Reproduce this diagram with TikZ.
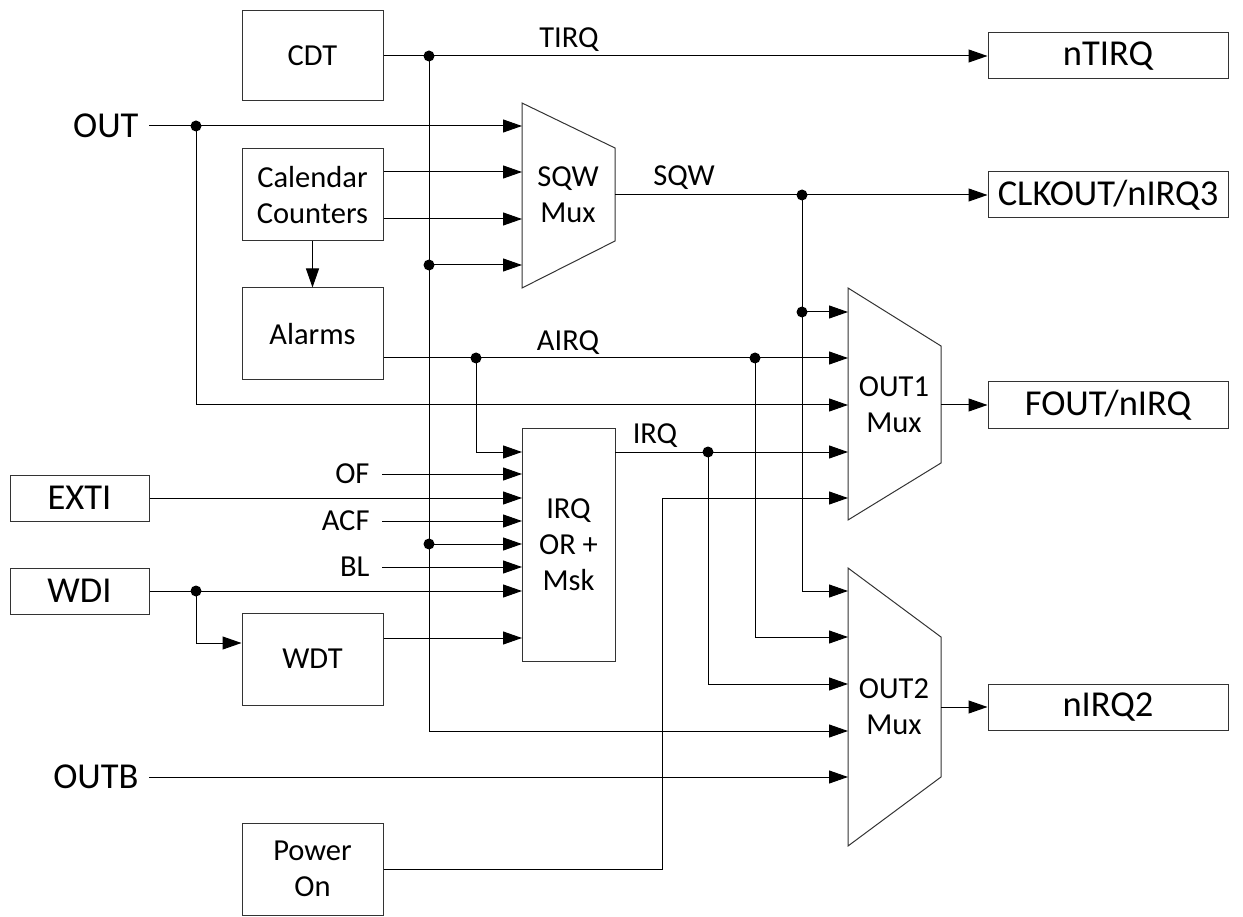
\documentclass[tikz,border=0pt]{standalone}
\usepackage{fontspec}
\setmainfont{Carlito}
\usetikzlibrary{arrows.meta,calc}
\newcommand\fsmall{\fontsize{30.5}{36}\selectfont}
\newcommand\fbig{\fontsize{36.5}{42}\selectfont}
\begin{document}
\begin{tikzpicture}[x=1pt,y=-1pt,line width=1pt,
  >={Triangle[length=19pt,width=13pt]},
  blk/.style={draw=black!80,minimum width=141pt,minimum height=92pt,inner sep=0pt,font=\fsmall,align=center},
  io/.style={draw=black!80,minimum width=139pt,minimum height=46pt,inner sep=0pt,font=\fbig},
  ob/.style={draw=black!80,minimum width=240pt,minimum height=46pt,inner sep=0pt,font=\fbig},
  mux/.style={draw=black!80,line join=miter},
  muxtxt/.style={font=\fsmall,align=center,inner sep=0pt},
  sl/.style={font=\fsmall,inner sep=0pt},
  inlbl/.style={font=\fsmall,inner ysep=0pt,inner xsep=12pt,anchor=east},
  biglbl/.style={font=\fbig,inner ysep=0pt,inner xsep=10pt,anchor=east},
  dot/.style={fill=black}]
\useasboundingbox (0,0) rectangle (1243,917);

% blocks
\node[blk,minimum height=90pt] (cdt) at (312.5,56) {CDT};
\node[blk] (cal) at (312.5,195) {Calendar\\Counters};
\node[blk] (alarms) at (312.5,334) {Alarms};
\node[blk] (wdt) at (312.5,659) {WDT};
\node[blk] (pwr) at (312.5,869) {Power\\On};
\node[io] (exti) at (79.5,498) {EXTI};
\node[io] (wdi) at (79.5,591) {WDI};
\node[ob] (ntirq) at (1108,56) {nTIRQ};
\node[ob] (clk) at (1108,195) {CLKOUT/nIRQ3};
\node[ob] (fout) at (1108,405) {FOUT/nIRQ};
\node[ob] (nirq2) at (1108,707) {nIRQ2};
\node[draw=black!80,minimum width=93pt,minimum height=233pt,inner sep=0pt,font=\fsmall,align=center] (irq) at (568.5,544.5) {IRQ\\OR +\\Msk};

% muxes
\draw[mux] (522,103) -- (615,148) -- (615,241) -- (522,288) -- cycle;
\node[muxtxt] (sqw) at (568,195) {SQW\\Mux};
\draw[mux] (848,288) -- (941,346) -- (941,463) -- (848,520) -- cycle;
\node[muxtxt] (out1) at (894,405) {OUT1\\Mux};
\draw[mux] (848,568) -- (941,637) -- (941,777) -- (848,846) -- cycle;
\node[muxtxt] (out2) at (894,707) {OUT2\\Mux};

% ports
\coordinate (sIn1) at (522,126); \coordinate (sIn2) at (522,172);
\coordinate (sIn3) at (522,219); \coordinate (sIn4) at (522,265);
\coordinate (sOut) at (615,195);
\coordinate (aIn1) at (848,312); \coordinate (aIn2) at (848,358);
\coordinate (aIn3) at (848,405); \coordinate (aIn4) at (848,452);
\coordinate (aIn5) at (848,498); \coordinate (aOut) at (941,405);
\coordinate (bIn1) at (848,591); \coordinate (bIn2) at (848,637);
\coordinate (bIn3) at (848,684); \coordinate (bIn4) at (848,731);
\coordinate (bIn5) at (848,777); \coordinate (bOut) at (941,707);
\coordinate (iIn1) at (522,452); \coordinate (iIn2) at (522,474);
\coordinate (iIn3) at (522,498); \coordinate (iIn4) at (522,521);
\coordinate (iIn5) at (522,544); \coordinate (iIn6) at (522,567);
\coordinate (iIn7) at (522,591); \coordinate (iIn8) at (522,638);
\coordinate (iOut) at (615,452);

% junctions
\coordinate (jT) at (429,56); \coordinate (jS1) at (429,265);
\coordinate (jS2) at (429,544); \coordinate (jO) at (196,126);
\coordinate (jW) at (196,591); \coordinate (jA1) at (476,358);
\coordinate (jA2) at (755,358); \coordinate (jQ) at (802,195);
\coordinate (jQ2) at (802,312); \coordinate (jI) at (708,452);

% labels
\node[sl,anchor=base] (tirqL) at (569,48) {TIRQ};
\node[sl,anchor=base] (sqwL) at (684,186) {SQW};
\node[sl,anchor=base] (airqL) at (568,351) {AIRQ};
\node[sl,anchor=base] (irqL) at (655,443) {IRQ};
\node[inlbl] (ofL) at (382,474) {OF};
\node[inlbl] (acfL) at (382,521) {ACF};
\node[inlbl] (blL) at (382,567) {BL};
\node[biglbl] (outL) at (149,126) {OUT};
\node[biglbl] (outbL) at (149,777) {OUTB};

% connectors
\draw[->] (cdt.east) -- (ntirq.west);
\draw[->] (jT) |- (bIn4);
\draw[->] (jS1) -- (sIn4);
\draw[->] (jS2) -- (iIn5);
\draw[->] (outL.east) -- (sIn1);
\draw[->] (jO) |- (aIn3);
\draw[->] (cal.east |- sIn2) -- (sIn2);
\draw[->] (cal.east |- sIn3) -- (sIn3);
\draw[->] (cal.south) -- (alarms.north);
\draw[->] (alarms.east |- aIn2) -- (aIn2);
\draw[->] (jA1) |- (iIn1);
\draw[->] (jA2) |- (bIn2);
\draw[->] (sOut) -- (clk.west);
\draw[->] (jQ) |- (bIn1);
\draw[->] (jQ2) -- (aIn1);
\draw[->] (iOut) -- (aIn4);
\draw[->] (jI) |- (bIn3);
\draw[->] (pwr.east) -| (662,498) -- (aIn5);
\draw[->] (aOut) -- (fout.west);
\draw[->] (bOut) -- (nirq2.west);
\draw[->] (outbL.east) -- (bIn5);
\draw[->] (ofL.east) -- (iIn2);
\draw[->] (exti.east) -- (iIn3);
\draw[->] (acfL.east) -- (iIn4);
\draw[->] (blL.east) -- (iIn6);
\draw[->] (wdi.east) -- (iIn7);
\draw[->] (jW) |- (wdt.west |- 0,643);
\draw[->] (wdt.east |- iIn8) -- (iIn8);

% junction dots
\foreach \j in {jT,jS1,jS2,jO,jW,jA1,jA2,jQ,jQ2,jI}
  \fill[dot] (\j) circle (5.5pt);
\end{tikzpicture}
\end{document}
